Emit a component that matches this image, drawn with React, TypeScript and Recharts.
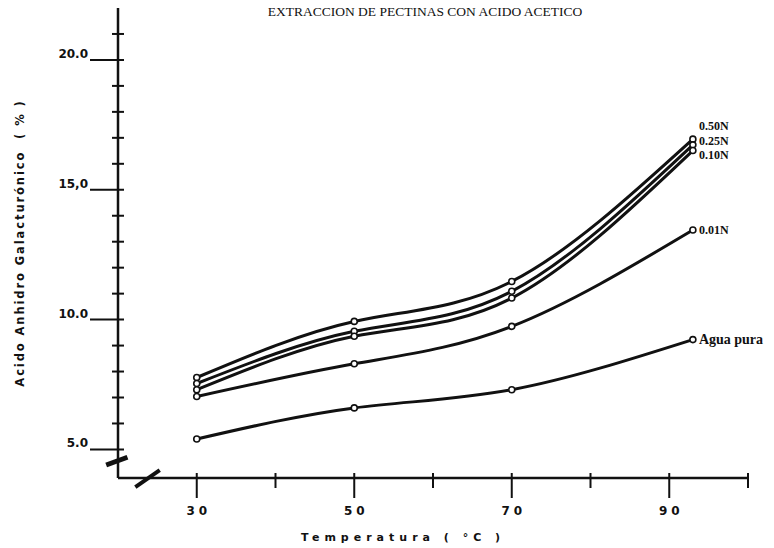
import React from "react";
import { LineChart, Line, XAxis, YAxis, ReferenceLine } from "recharts";

// Temperatura (°C) de cada extracción
const temperaturas = [30, 50, 70, 93];

// % de ácido anhidro galacturónico por concentración de ácido acético
const acido050N = [7.77, 9.93, 11.47, 16.95];
const acido025N = [7.54, 9.55, 11.09, 16.73];
const acido010N = [7.3, 9.36, 10.83, 16.51];
const acido001N = [7.04, 8.3, 9.74, 13.45];
const aguaPura = [5.4, 6.6, 7.3, 9.23];

const nombresSeries = ["0.50N", "0.25N", "0.10N", "0.01N", "Agua pura"];

const xTicks = [30, 40, 50, 60, 70, 80, 90, 100];
const xTickLabels = [30, 50, 70, 90];
const yTicks = [5, 6, 7, 8, 9, 10, 11, 12, 13, 14, 15, 16, 17, 18, 19, 20, 21];
const yTickLabels: Record<number, string> = { 5: "5.0", 10: "10.0", 15: "15,0", 20: "20.0" };

const data = temperaturas.map((t, i) => ({
  t,
  s050: acido050N[i],
  s025: acido025N[i],
  s010: acido010N[i],
  s001: acido001N[i],
  agua: aguaPura[i],
}));

const series = [
  { key: "s050", name: nombresSeries[0], dy: -12, size: 12 },
  { key: "s025", name: nombresSeries[1], dy: -3, size: 12 },
  { key: "s010", name: nombresSeries[2], dy: 6, size: 12 },
  { key: "s001", name: nombresSeries[3], dy: 1, size: 12 },
  { key: "agua", name: nombresSeries[4], dy: 1, size: 14 },
];

const sansBold = { fontFamily: "DejaVu Sans", fontWeight: 700, fill: "#111" } as const;

function YTick({ x, y, payload }: any) {
  const label = yTickLabels[payload.value];
  if (label) {
    return (
      <g>
        <line x1={x - 28} x2={x + 6} y1={y} y2={y} stroke="#111" strokeWidth={2} />
        <text x={x - 30} y={y} dy={-2} textAnchor="end" fontSize={12} style={sansBold}>
          {label}
        </text>
      </g>
    );
  }
  return <line x1={x - 6} x2={x + 6} y1={y} y2={y} stroke="#111" strokeWidth={2} />;
}

function XTick({ x, y, payload }: any) {
  const labelled = xTickLabels.includes(payload.value);
  return (
    <g>
      <line x1={x} x2={x} y1={y - 5} y2={y + (labelled ? 20 : 10)} stroke="#111" strokeWidth={2} />
      {labelled && (
        <text x={x + 2} y={y + 37} textAnchor="middle" fontSize={12} letterSpacing={4} style={sansBold}>
          {String(payload.value)}
        </text>
      )}
    </g>
  );
}

function endLabel(name: string, dy: number, size: number) {
  return (props: any) => {
    const { x, y, index } = props;
    if (index !== temperaturas.length - 1) return null;
    return (
      <text
        key={name}
        x={x + 6}
        y={y + dy}
        dominantBaseline="middle"
        fontSize={size}
        fontFamily="Liberation Serif"
        fontWeight={700}
        fill="#111"
      >
        {name}
      </text>
    );
  };
}

export default function App() {
  return (
    <div style={{ position: "absolute", left: 0, top: 0, width: 774, height: 548, background: "#fff" }}>
      <svg width={774} height={548} style={{ position: "absolute", left: 0, top: 0, pointerEvents: "none" }}>
        <text x={425} y={16} textAnchor="middle" fontSize={13.5} fontFamily="Liberation Serif" fill="#111">
          EXTRACCION DE PECTINAS CON ACIDO ACETICO
        </text>
        <text
          x={24}
          y={243}
          transform="rotate(-90 24 243)"
          textAnchor="middle"
          fontSize={11.5}
          letterSpacing={1.9}
          style={sansBold}
        >
          Acido Anhidro Galacturónico{"\u00a0\u00a0"}( % )
        </text>
        <text x={403} y={541} textAnchor="middle" fontSize={11} letterSpacing={5} style={sansBold}>
          Temperatura ( °C )
        </text>
      </svg>
      <LineChart width={774} height={548} data={data} margin={{ top: 8, right: 26, bottom: 0, left: 0 }}>
        <XAxis
          dataKey="t"
          type="number"
          domain={[20, 100]}
          ticks={xTicks}
          tick={<XTick />}
          tickLine={false}
          tickSize={0}
          tickMargin={0}
          height={70}
          axisLine={{ stroke: "#111", strokeWidth: 2.5 }}
        />
        <YAxis
          type="number"
          domain={[3.9, 22]}
          ticks={yTicks}
          tick={<YTick />}
          tickLine={false}
          tickSize={0}
          tickMargin={0}
          width={118}
          interval={0}
          axisLine={{ stroke: "#111", strokeWidth: 2.5 }}
        />
        {/* cortes de escala en ambos ejes */}
        <ReferenceLine
          segment={[{ x: 18.5, y: 4.4 }, { x: 21.2, y: 4.7 }]}
          stroke="#111"
          strokeWidth={5}
          ifOverflow="visible"
        />
        <ReferenceLine
          segment={[{ x: 22.2, y: 3.55 }, { x: 25.3, y: 4.2 }]}
          stroke="#111"
          strokeWidth={4}
          ifOverflow="visible"
        />
        {series.map((s) => (
          <Line
            key={s.key}
            dataKey={s.key}
            name={s.name}
            type="natural"
            stroke="#111"
            strokeWidth={3}
            dot={{ r: 3, stroke: "#111", strokeWidth: 1.6, fill: "#fff" }}
            label={endLabel(s.name, s.dy, s.size)}
            isAnimationActive={false}
          />
        ))}
      </LineChart>
    </div>
  );
}
